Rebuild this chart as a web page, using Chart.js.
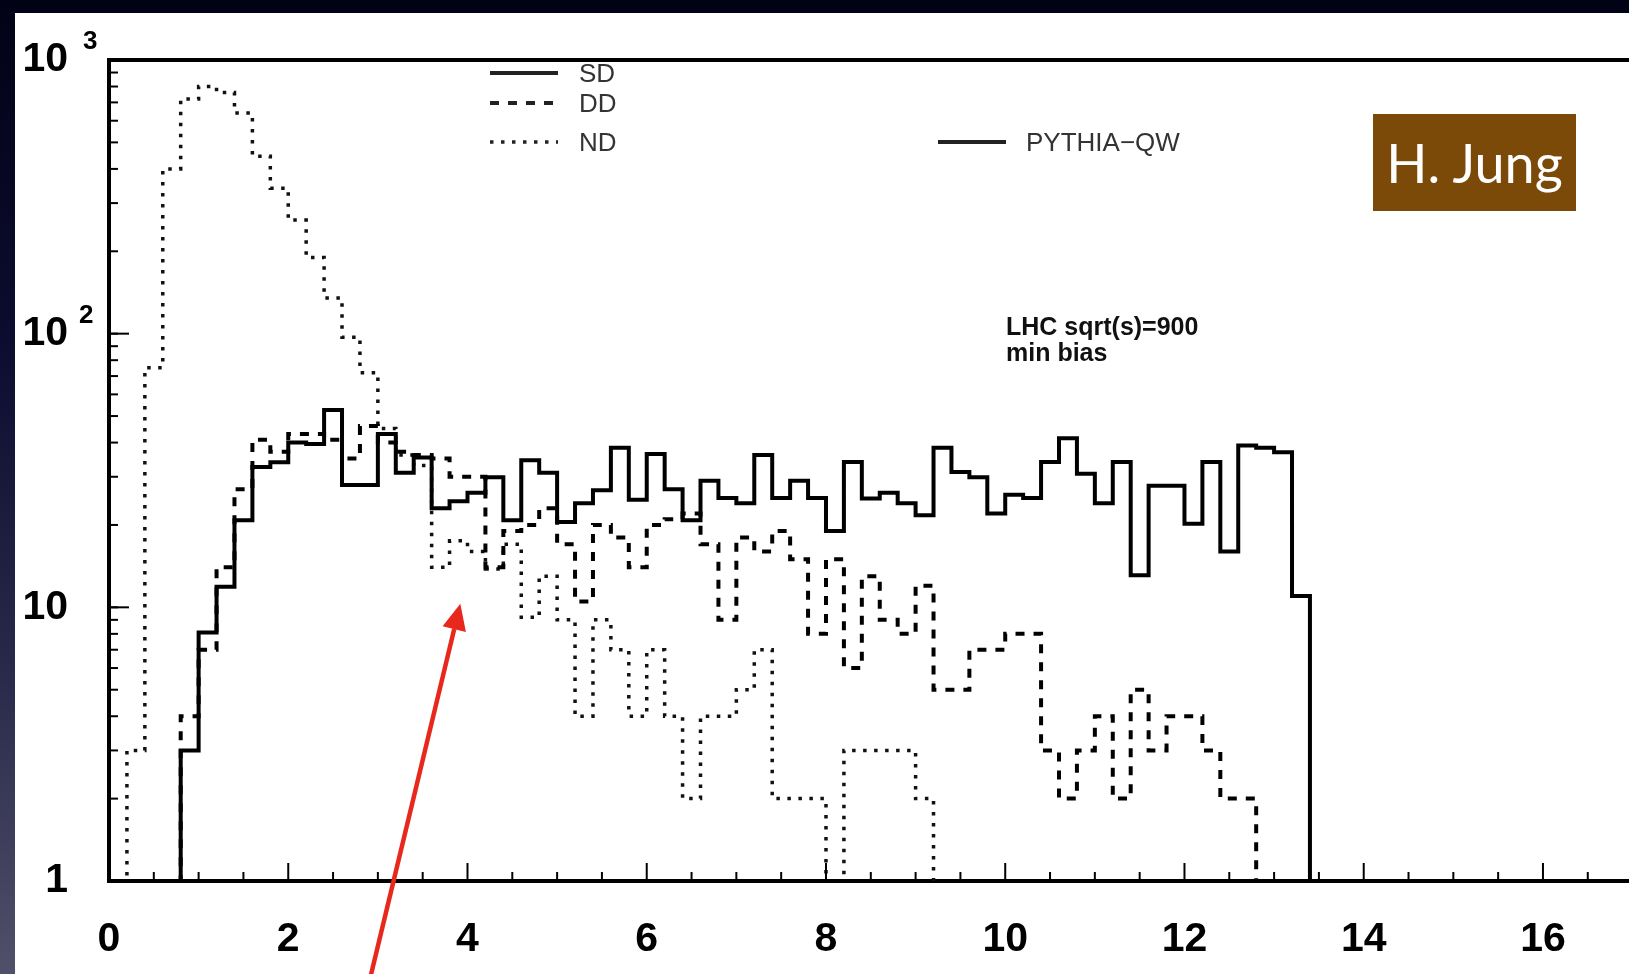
<!DOCTYPE html>
<html>
<head>
<meta charset="utf-8">
<title>PYTHIA-QW min bias</title>
<script src="https://cdn.jsdelivr.net/npm/chart.js@4.4.1/dist/chart.umd.min.js"></script>
<style>
  html, body { margin: 0; padding: 0; }
  body {
    width: 1629px; height: 974px; overflow: hidden; position: relative;
    background: linear-gradient(to bottom, #020216 0%, #0c0c30 35%, #2a2a4c 70%, #50506a 100%);
    font-family: "Liberation Sans", Arial, sans-serif;
  }
  #painel { position: absolute; left: 15px; top: 13px; width: 1614px; height: 961px; background: #fff; }
  #grafico { position: absolute; left: 0; top: 0; }
  .txt { position: absolute; white-space: nowrap; line-height: 1; }
  .leg { font-size: 26px; line-height: 26px; color: #333; }
  .info { font-size: 25px; line-height: 25px; font-weight: bold; color: #111; }
  #autor {
    position: absolute; left: 1373px; top: 114px; width: 203px; height: 97px;
    background: #7b4a08; color: #fff; font-family: Lato, "Open Sans", sans-serif; font-size: 54px;
    display: flex; align-items: center; justify-content: center;
  }
</style>
</head>
<body>
<div id="painel"><canvas id="grafico" width="1614" height="961"></canvas></div>

<div class="txt leg" style="left:579px; top:60px">SD</div>
<div class="txt leg" style="left:579px; top:90px">DD</div>
<div class="txt leg" style="left:579px; top:129px">ND</div>
<div class="txt leg" style="left:1026px; top:129px">PYTHIA−QW</div>
<div class="txt info" style="left:1006px; top:314px">LHC sqrt(s)=900</div>
<div class="txt info" style="left:1006px; top:340px">min bias</div>
<div id="autor">H. Jung</div>

<script>
// ========================================
// Histogramas SD / DD / ND (PYTHIA-QW, LHC 900 GeV)
// ========================================

// bordas das classes (largura 0.2)
const bordasClasses = [0, 0.2, 0.4, 0.6, 0.8, 1.0, 1.2, 1.4, 1.6, 1.8, 2.0, 2.2, 2.4, 2.6, 2.8, 3.0,
  3.2, 3.4, 3.6, 3.8, 4.0, 4.2, 4.4, 4.6, 4.8, 5.0, 5.2, 5.4, 5.6, 5.8, 6.0, 6.2, 6.4, 6.6, 6.8, 7.0,
  7.2, 7.4, 7.6, 7.8, 8.0, 8.2, 8.4, 8.6, 8.8, 9.0, 9.2, 9.4, 9.6, 9.8, 10.0, 10.2, 10.4, 10.6, 10.8,
  11.0, 11.2, 11.4, 11.6, 11.8, 12.0, 12.2, 12.4, 12.6, 12.8, 13.0, 13.2, 13.4]

const valoresSD = [0, 0, 0, 0, 3, 8.1, 11.9, 20.8, 32.6, 33.9,
  40, 39.5, 52.6, 28, 28, 43, 31, 35.3, 23, 24.4,
  26.2, 29.9, 20.8, 34.5, 31, 20.5, 24, 26.8, 38.3, 24.7,
  36.3, 27, 20.8, 29, 25.1, 24, 36, 25.1, 29, 25.1,
  19, 34, 25, 26.2, 24, 21.7, 38.3, 31.2, 29.9, 22,
  25.8, 25.1, 34, 41.5, 30.8, 24, 34, 13.1, 27.8, 27.8,
  20.2, 34, 16, 39, 38.3, 36.9, 11]

const valoresDD = [0, 0, 0, 0, 4, 7, 14, 27, 41, 37,
  43, 43, 41, 35, 46, 40, 37, 36, 35, 30,
  30, 14, 19, 20, 23, 17, 10.5, 20, 18, 14,
  20, 21, 22, 17, 9, 18, 16, 19, 15, 8,
  15, 6, 13, 9, 8, 12, 5, 5, 7, 7,
  8, 8, 3, 2, 3, 4, 2, 5, 3, 4,
  4, 3, 2, 2, 0, 0, 0]

const valoresND = [0, 3, 75, 400, 720, 800, 760, 640, 445, 340,
  260, 190, 135, 97, 72, 45, 36, 33, 14, 17.5,
  16, 13.8, 17, 9.2, 13, 9, 4, 9, 7, 4,
  7, 4, 2, 4, 4, 5, 7, 2, 2, 2,
  0, 3, 3, 3, 3, 2, 0, 0, 0, 0,
  0, 0, 0, 0, 0, 0, 0, 0, 0, 0,
  0, 0, 0, 0, 0, 0, 0]

const ticksX = [0, 2, 4, 6, 8, 10, 12, 14, 16]
const ticksY = [1, 10, 100, 1000]
const rotulosY = ["1", "10", "10", "10"]
const expoentesY = ["", "", "2", "3"]

// seta vermelha (coordenadas de dados)
const setaPonta = { x: 3.92, y: 10.3 }
const setaCauda = { x: 2.92, y: 0.45 }

// classes vazias ficam abaixo do eixo log
const pisoLog = 0.1

const estilos = {
  SD: { cor: "#000", largura: 4, traco: [] },
  DD: { cor: "#000", largura: 4, traco: [9, 9] },
  ND: { cor: "#111", largura: 3.5, traco: [3.5, 7.5] },
}

function montarPontos(valores) {
  const pontos = valores.map((v, i) => ({ x: bordasClasses[i], y: Math.max(v, pisoLog) }))
  pontos.push({ x: bordasClasses[valores.length], y: pisoLog })
  return pontos
}

function criarDataset(nome, valores) {
  const e = estilos[nome]
  return {
    label: nome,
    data: montarPontos(valores),
    borderColor: e.cor,
    borderWidth: e.largura,
    borderDash: e.traco,
    borderCapStyle: "butt",
    stepped: true,
    pointRadius: 0,
    fill: false,
    tension: 0,
  }
}

function tracarLinha(ctx, x0, y0, x1, y1) {
  ctx.beginPath()
  ctx.moveTo(x0, y0)
  ctx.lineTo(x1, y1)
  ctx.stroke()
}

// área do gráfico fixa (pixels do canvas)
const areaFixa = { left: 94, top: 47, bottom: 868 }

const decoracoes = {
  id: "decoracoes",
  afterDraw(chart) {
    const { ctx, chartArea } = chart
    const sx = chart.scales.x
    const sy = chart.scales.y
    ctx.save()
    ctx.strokeStyle = "#000"
    ctx.setLineDash([])

    // moldura superior
    ctx.lineWidth = 4
    tracarLinha(ctx, chartArea.left - 2, chartArea.top, chartArea.right, chartArea.top)

    // marcas do eixo x (para dentro)
    ctx.lineWidth = 2
    for (let i = 1; i <= 33; i++) {
      const v = i * 0.5
      const px = sx.getPixelForValue(v)
      const len = i % 4 === 0 ? 18 : 9
      tracarLinha(ctx, px, chartArea.bottom, px, chartArea.bottom - len)
    }

    // marcas do eixo y (log)
    for (let d = 1; d <= 100; d *= 10) {
      for (let m = 1; m <= 10; m++) {
        const v = d * m
        if (v === 1) continue
        const py = sy.getPixelForValue(v)
        const len = m === 10 ? 20 : 9
        tracarLinha(ctx, chartArea.left, py, chartArea.left + len, py)
      }
    }

    // expoentes dos rótulos 10^n
    ctx.fillStyle = "#000"
    ctx.font = "bold 26px 'Liberation Sans', Arial, sans-serif"
    ctx.textBaseline = "middle"
    ctx.textAlign = "left"
    ticksY.forEach((v, i) => {
      if (!expoentesY[i]) return
      const dx = v === 1000 ? 68 : 64
      ctx.fillText(expoentesY[i], dx, sy.getPixelForValue(v) - 18)
    })

    // amostras da legenda
    const amostras = [
      { estilo: estilos.SD, x0: 475, x1: 543, y: 60 },
      { estilo: estilos.DD, x0: 475, x1: 543, y: 90 },
      { estilo: estilos.ND, x0: 475, x1: 543, y: 129 },
      { estilo: estilos.SD, x0: 923, x1: 991, y: 129 },
    ]
    for (const a of amostras) {
      ctx.strokeStyle = "#222"
      ctx.lineWidth = a.estilo.largura
      ctx.setLineDash(a.estilo.traco)
      tracarLinha(ctx, a.x0, a.y, a.x1, a.y)
    }
    ctx.setLineDash([])

    // seta vermelha
    const px1 = sx.getPixelForValue(setaPonta.x)
    const py1 = sy.getPixelForValue(setaPonta.y)
    const px0 = sx.getPixelForValue(setaCauda.x)
    const py0 = sy.getPixelForValue(setaCauda.y)
    const ang = Math.atan2(py1 - py0, px1 - px0)
    const compCabeca = 26
    const meiaLarg = 12
    const bx = px1 - compCabeca * Math.cos(ang)
    const by = py1 - compCabeca * Math.sin(ang)
    ctx.strokeStyle = "#e8281c"
    ctx.fillStyle = "#e8281c"
    ctx.lineWidth = 4.5
    tracarLinha(ctx, px0, py0, bx, by)
    ctx.beginPath()
    ctx.moveTo(px1, py1)
    ctx.lineTo(bx + meiaLarg * Math.sin(ang), by - meiaLarg * Math.cos(ang))
    ctx.lineTo(bx - meiaLarg * Math.sin(ang), by + meiaLarg * Math.cos(ang))
    ctx.closePath()
    ctx.fill()

    ctx.restore()
  },
}

const fonteEixo = { family: "'Liberation Sans', Arial, sans-serif", weight: "bold", size: 41 }

const grafico = new Chart(document.getElementById("grafico").getContext("2d"), {
  type: "line",
  data: {
    datasets: [
      criarDataset("SD", valoresSD),
      criarDataset("DD", valoresDD),
      criarDataset("ND", valoresND),
    ],
  },
  options: {
    responsive: false,
    animation: false,
    devicePixelRatio: 1,
    layout: { padding: { top: areaFixa.top, left: 0, right: 0, bottom: 0 } },
    plugins: {
      legend: { display: false },
      tooltip: { enabled: false },
    },
    scales: {
      x: {
        type: "linear",
        min: 0,
        max: 16.96,
        afterBuildTicks: (ax) => { ax.ticks = ticksX.map((v) => ({ value: v })) },
        afterFit: (ax) => {
          ax.height = 961 - areaFixa.bottom
          ax.paddingLeft = 0
          ax.paddingRight = 0
        },
        grid: { display: false, drawTicks: false },
        border: { display: true, color: "#000", width: 4 },
        ticks: {
          color: "#000",
          font: fonteEixo,
          padding: 34,
          maxRotation: 0,
          autoSkip: false,
          includeBounds: false,
          callback: (v) => String(v),
        },
      },
      y: {
        type: "logarithmic",
        min: 1,
        max: 1000,
        afterBuildTicks: (ax) => { ax.ticks = ticksY.map((v) => ({ value: v })) },
        afterFit: (ax) => {
          ax.width = areaFixa.left
          ax.paddingTop = 0
          ax.paddingBottom = 0
        },
        grid: { display: false, drawTicks: false },
        border: { display: true, color: "#000", width: 4 },
        ticks: {
          color: "#000",
          font: fonteEixo,
          padding: 41,
          autoSkip: false,
          callback: (v) => {
            const i = ticksY.indexOf(v)
            return i >= 0 ? rotulosY[i] : ""
          },
        },
      },
    },
  },
  plugins: [decoracoes],
})
</script>
</body>
</html>
